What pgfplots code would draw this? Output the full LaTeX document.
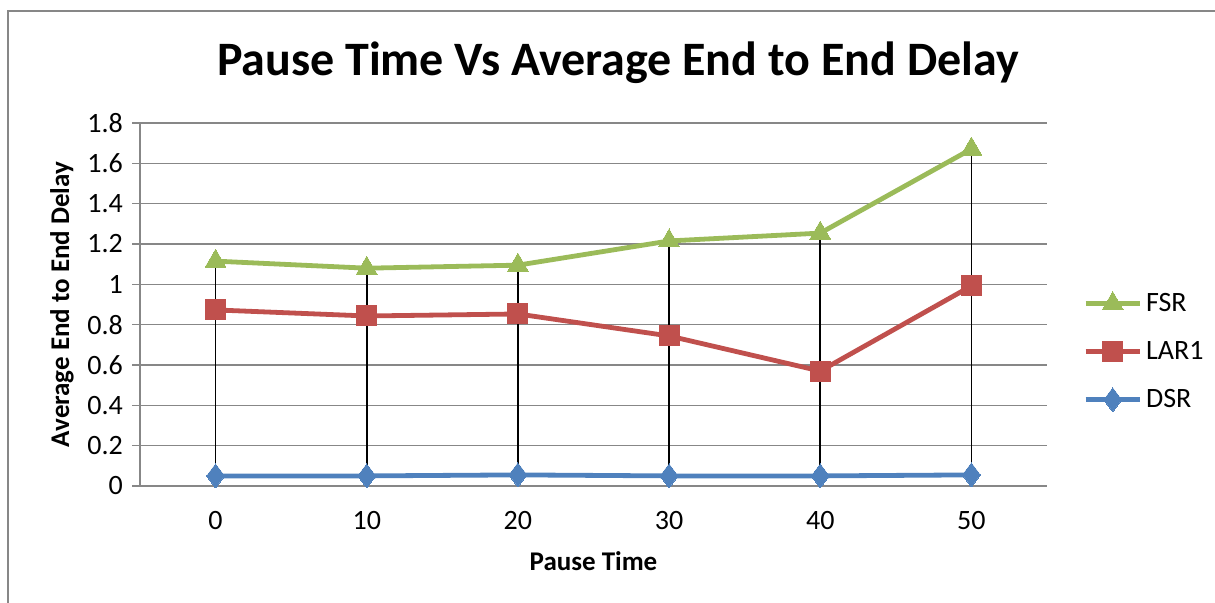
\documentclass[border=0pt]{standalone}
\usepackage{pgfplots}
\pgfplotsset{compat=1.18}
\usepackage{fontspec}
\setmainfont{Carlito}

\definecolor{fsrgreen}{HTML}{9BBB59}
\definecolor{larred}{HTML}{C0504D}
\definecolor{dsrblue}{HTML}{4F81BD}
\definecolor{gridgray}{HTML}{878787}

\begin{document}
\begin{tikzpicture}
% page: 1215 x 603 px at 0.5pt per px
\path[use as bounding box] (0,0) rectangle (607.5pt,301.5pt);
\draw[gridgray, line width=1pt] (4pt,0) -- (4pt,296pt) -- (607.5pt,296pt);

\node[font=\bfseries\fontsize{24}{28}\selectfont] at (309pt,270pt) {Pause Time Vs Average End to End Delay};

\begin{axis}[
    at={(70pt,58.5pt)},
    anchor=south west,
    scale only axis,
    width=453.5pt,
    height=181.5pt,
    xmin=-0.5, xmax=5.5,
    ymin=0, ymax=1.8,
    xtick={0,...,5},
    xticklabels={0,10,20,30,40,50},
    ytick={0,0.2,...,1.8},
    yticklabels={0,0.2,0.4,0.6,0.8,1,1.2,1.4,1.6,1.8},
    axis x line*=bottom,
    axis y line*=left,
    axis line style={draw=gridgray, line width=0.8pt, -},
    x tick style={draw=none},
    y tick style={draw=gridgray, line width=0.8pt},
    tick align=outside,
    major tick length=4pt,
    ymajorgrids,
    grid style={draw=gridgray, line width=0.8pt},
    tick label style={font=\fontsize{14}{16}\selectfont},
    yticklabel style={xshift=-1pt},
    xticklabel style={yshift=-5pt},
    xlabel={\bfseries Pause Time},
    ylabel={\bfseries Average End to End Delay},
    label style={font=\bfseries\fontsize{13.5}{16}\selectfont},
    xlabel style={yshift=-4pt},
    ylabel style={yshift=0pt},
    legend style={draw=none, fill=none, at={(1.033,0.37)}, anchor=west,
        font=\fontsize{14}{16}\selectfont, row sep=9.5pt},
    legend cell align=left,
    legend image code/.code={
        \draw[#1, mark repeat=2, mark phase=2] plot coordinates {(0pt,0pt) (13.5pt,0pt) (27pt,0pt)};
    },
    unbounded coords=jump,
    clip=false,
]

\addplot[fsrgreen, line width=2.4pt, mark=triangle*, mark size=6pt,
    mark options={line width=0pt}] coordinates {
    (0,1.115) (1,1.080) (2,1.095) (3,1.215) (4,1.254) (5,1.671)
};
\addlegendentry{FSR}

\addplot[larred, line width=2.4pt, mark=square*, mark size=5pt,
    mark options={line width=0pt}] coordinates {
    (0,0.873) (1,0.843) (2,0.853) (3,0.744) (4,0.570) (5,0.992)
};
\addlegendentry{LAR1}

\addplot[dsrblue, line width=2.4pt, mark=diamond*, mark size=6pt,
    mark options={line width=0pt}] coordinates {
    (0,0.050) (1,0.050) (2,0.055) (3,0.050) (4,0.050) (5,0.055)
};
\addlegendentry{DSR}

% high-low lines from FSR down to DSR
\addplot[black, line width=0.9pt, forget plot] coordinates {
    (0,0.050) (0,1.115) (0,nan)
    (1,0.050) (1,1.080) (1,nan)
    (2,0.055) (2,1.095) (2,nan)
    (3,0.050) (3,1.215) (3,nan)
    (4,0.050) (4,1.254) (4,nan)
    (5,0.055) (5,1.671)
};

\end{axis}
\end{tikzpicture}
\end{document}
